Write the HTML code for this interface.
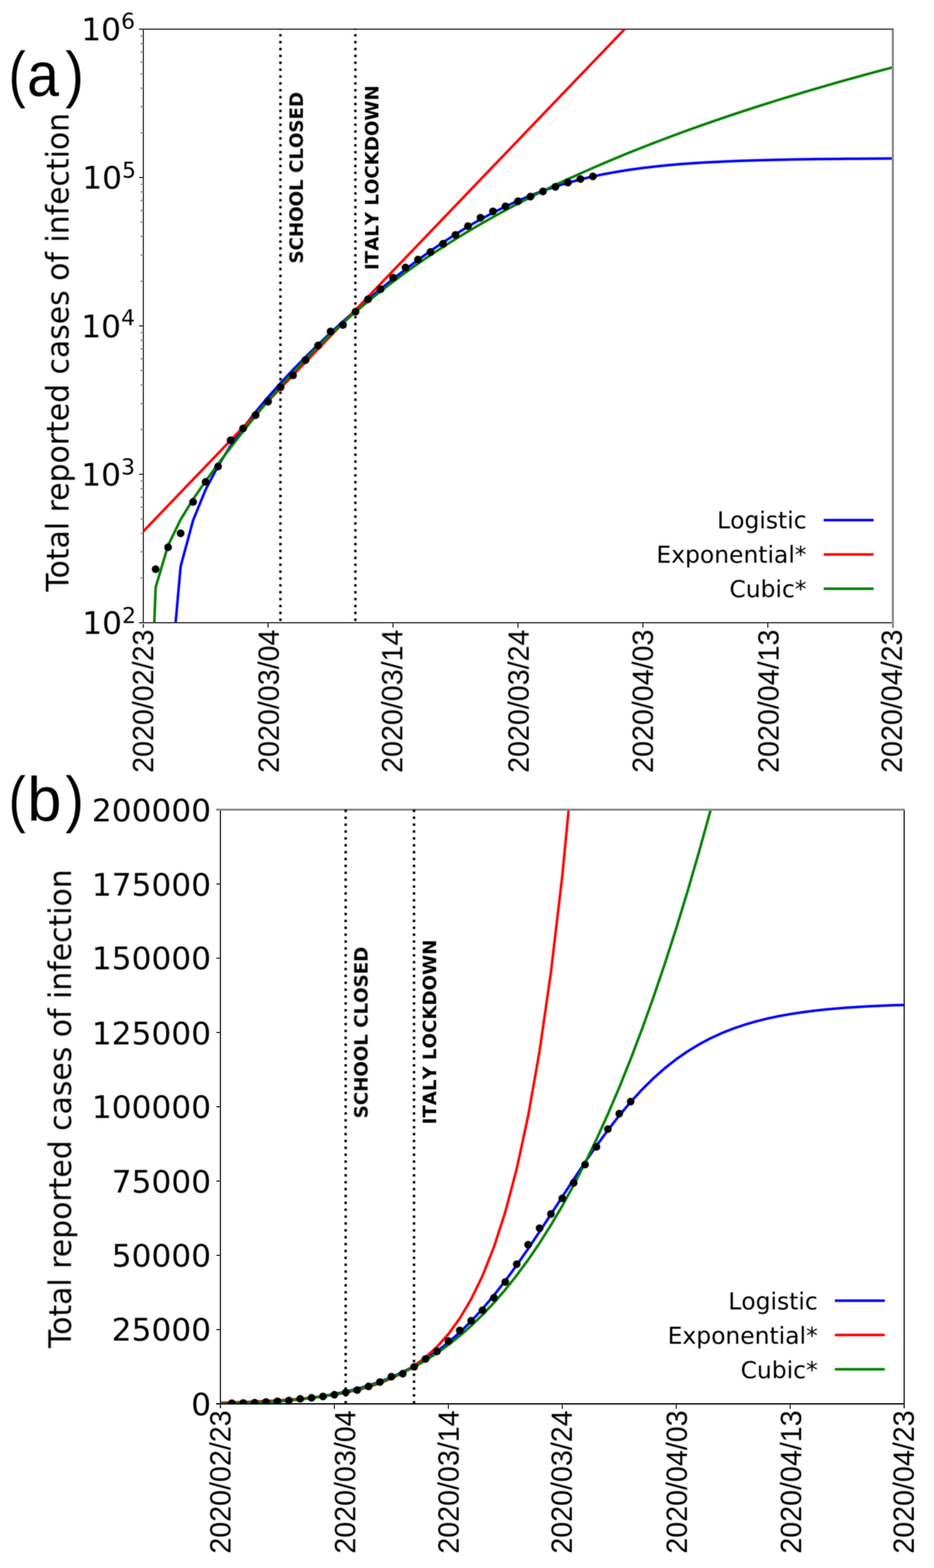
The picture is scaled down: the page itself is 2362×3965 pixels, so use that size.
<!DOCTYPE html>
<html><head><meta charset="utf-8"><title>Total reported cases of infection</title>
<style>
html,body{margin:0;padding:0;background:#fff;width:2362px;height:3965px;overflow:hidden}
svg{display:block}
text{fill:#000;font-kerning:none;white-space:pre}
.k{font-kerning:normal}
.dv{font-family:"DejaVu Sans","Liberation Sans",sans-serif}
.ls{font-family:"Liberation Sans","DejaVu Sans",sans-serif}
</style></head><body>
<svg width="2362" height="3965" viewBox="0 0 2362 3965">
<defs><filter id="soft" filterUnits="userSpaceOnUse" x="0" y="0" width="2362" height="3965" color-interpolation-filters="sRGB"><feGaussianBlur stdDeviation="0.8"/></filter></defs>
<rect width="2362" height="3965" fill="#fff"/>
<g filter="url(#soft)">
<clipPath id="clipa"><rect x="362" y="73.7" width="1895.7" height="1500.7"/></clipPath>
<g clip-path="url(#clipa)">
<polyline fill="none" stroke="#0000ff" stroke-width="6.5" stroke-linejoin="round" points="425.19,1786.36 456.78,1432.62 488.38,1315.61 519.97,1238.31 551.57,1178.06 583.16,1127.28 614.76,1082.48 646.36,1041.78 677.95,1004.05 709.54,968.59 741.14,934.9 772.73,902.67 804.33,871.66 835.92,841.72 867.52,812.74 899.11,784.66 930.71,757.44 962.3,731.07 993.9,705.57 1025.49,680.96 1057.09,657.29 1088.68,634.6 1120.28,612.94 1151.88,592.39 1183.47,572.98 1215.07,554.77 1246.66,537.8 1278.25,522.09 1309.85,507.65 1341.45,494.48 1373.04,482.55 1404.63,471.83 1436.23,462.25 1467.83,453.75 1499.42,446.25 1531.01,439.68 1562.61,433.96 1594.2,428.98 1625.8,424.69 1657.39,420.99 1688.99,417.82 1720.58,415.1 1752.18,412.79 1783.77,410.81 1815.37,409.14 1846.96,407.72 1878.56,406.52 1910.15,405.5 1941.75,404.64 1973.34,403.91 2004.94,403.3 2036.53,402.78 2068.13,402.34 2099.72,401.98 2131.32,401.67 2162.91,401.41 2194.51,401.19 2226.1,401 2257.7,400.85"/>
<polyline fill="none" stroke="#ff0000" stroke-width="6.5" stroke-linejoin="round" points="362,1344.25 393.59,1311.28 425.19,1278.31 456.78,1245.34 488.38,1212.37 519.97,1179.4 551.57,1146.43 583.16,1113.46 614.76,1080.49 646.36,1047.52 677.95,1014.56 709.54,981.59 741.14,948.62 772.73,915.65 804.33,882.68 835.92,849.71 867.52,816.74 899.11,783.77 930.71,750.8 962.3,717.83 993.9,684.86 1025.49,651.89 1057.09,618.92 1088.68,585.95 1120.28,552.98 1151.88,520.01 1183.47,487.04 1215.07,454.07 1246.66,421.1 1278.25,388.13 1309.85,355.16 1341.45,322.19 1373.04,289.22 1404.63,256.26 1436.23,223.29 1467.83,190.32 1499.42,157.35 1531.01,124.38 1562.61,91.41 1594.2,58.44 1625.8,25.47 1657.39,-7.5 1688.99,-40.47 1720.58,-73.44 1752.18,-106.41 1783.77,-139.38 1815.37,-172.35 1846.96,-205.32 1878.56,-238.29 1910.15,-271.26 1941.75,-304.23 1973.34,-337.2 2004.94,-370.17 2036.53,-403.14 2068.13,-436.11 2099.72,-469.07 2131.32,-502.04 2162.91,-535.01 2194.51,-567.98 2226.1,-600.95 2257.7,-633.92"/>
<polyline fill="none" stroke="#008000" stroke-width="6.5" stroke-linejoin="round" points="362,2317.72 393.59,1485.2 425.19,1378.86 456.78,1313.79 488.38,1262.46 519.97,1216.67 551.57,1173.37 583.16,1131.5 614.76,1090.83 646.36,1051.39 677.95,1013.33 709.54,976.75 741.14,941.69 772.73,908.19 804.33,876.19 835.92,845.66 867.52,816.52 899.11,788.7 930.71,762.12 962.3,736.7 993.9,712.36 1025.49,689.04 1057.09,666.66 1088.68,645.16 1120.28,624.48 1151.88,604.57 1183.47,585.38 1215.07,566.86 1246.66,548.98 1278.25,531.69 1309.85,514.95 1341.45,498.75 1373.04,483.03 1404.63,467.79 1436.23,452.98 1467.83,438.59 1499.42,424.6 1531.01,410.99 1562.61,397.73 1594.2,384.81 1625.8,372.21 1657.39,359.92 1688.99,347.93 1720.58,336.21 1752.18,324.76 1783.77,313.57 1815.37,302.62 1846.96,291.91 1878.56,281.43 1910.15,271.15 1941.75,261.09 1973.34,251.23 2004.94,241.55 2036.53,232.07 2068.13,222.76 2099.72,213.62 2131.32,204.64 2162.91,195.83 2194.51,187.17 2226.1,178.66 2257.7,170.29"/>
</g>
<clipPath id="clipb"><rect x="557.5" y="2047.4" width="1729" height="1502.6"/></clipPath>
<g clip-path="url(#clipb)">
<polyline fill="none" stroke="#0000ff" stroke-width="6.5" stroke-linejoin="round" points="557.5,3552.26 586.32,3551.13 615.13,3549.8 643.95,3548.21 672.77,3546.32 701.58,3544.09 730.4,3541.44 759.22,3538.32 788.03,3534.62 816.85,3530.25 845.67,3525.11 874.48,3519.06 903.3,3511.95 932.12,3503.63 960.93,3493.91 989.75,3482.59 1018.57,3469.47 1047.38,3454.32 1076.2,3436.92 1105.02,3417.06 1133.83,3394.54 1162.65,3369.2 1191.47,3340.92 1220.28,3309.68 1249.1,3275.53 1277.92,3238.62 1306.73,3199.23 1335.55,3157.76 1364.37,3114.7 1393.18,3070.64 1422,3026.22 1450.82,2982.13 1479.63,2938.99 1508.45,2897.41 1537.27,2857.89 1566.08,2820.83 1594.9,2786.51 1623.72,2755.1 1652.53,2726.66 1681.35,2701.15 1710.17,2678.47 1738.98,2658.46 1767.8,2640.93 1796.62,2625.66 1825.43,2612.43 1854.25,2601.01 1883.07,2591.21 1911.88,2582.81 1940.7,2575.64 1969.52,2569.53 1998.33,2564.34 2027.15,2559.93 2055.97,2556.2 2084.78,2553.04 2113.6,2550.37 2142.42,2548.11 2171.23,2546.21 2200.05,2544.61 2228.87,2543.25 2257.68,2542.12 2286.5,2541.16"/>
<polyline fill="none" stroke="#ff0000" stroke-width="6.5" stroke-linejoin="round" points="557.5,3546.91 586.32,3546.22 615.13,3545.38 643.95,3544.34 672.77,3543.07 701.58,3541.52 730.4,3539.61 759.22,3537.28 788.03,3534.43 816.85,3530.94 845.67,3526.66 874.48,3521.43 903.3,3515.02 932.12,3507.18 960.93,3497.57 989.75,3485.82 1018.57,3471.42 1047.38,3453.8 1076.2,3432.22 1105.02,3405.81 1133.83,3373.47 1162.65,3333.88 1191.47,3285.41 1220.28,3226.07 1249.1,3153.42 1277.92,3064.48 1306.73,2955.6 1335.55,2822.29 1364.37,2659.08 1393.18,2459.28 1422,2214.66 1450.82,1915.18 1479.63,1548.53 1508.45,1099.66 1537.27,550.12 1566.08,-122.67 1594.9,-946.35 1623.72,-952.6 1652.53,-952.6 1681.35,-952.6 1710.17,-952.6 1738.98,-952.6 1767.8,-952.6 1796.62,-952.6 1825.43,-952.6 1854.25,-952.6 1883.07,-952.6 1911.88,-952.6 1940.7,-952.6 1969.52,-952.6 1998.33,-952.6 2027.15,-952.6 2055.97,-952.6 2084.78,-952.6 2113.6,-952.6 2142.42,-952.6 2171.23,-952.6 2200.05,-952.6 2228.87,-952.6 2257.68,-952.6 2286.5,-952.6"/>
<polyline fill="none" stroke="#008000" stroke-width="6.5" stroke-linejoin="round" points="557.5,3549.99 586.32,3548.7 615.13,3547.51 643.95,3546.28 672.77,3544.9 701.58,3543.25 730.4,3541.19 759.22,3538.62 788.03,3535.39 816.85,3531.39 845.67,3526.49 874.48,3520.57 903.3,3513.5 932.12,3505.17 960.93,3495.45 989.75,3484.2 1018.57,3471.32 1047.38,3456.67 1076.2,3440.13 1105.02,3421.58 1133.83,3400.89 1162.65,3377.94 1191.47,3352.61 1220.28,3324.76 1249.1,3294.28 1277.92,3261.05 1306.73,3224.93 1335.55,3185.81 1364.37,3143.56 1393.18,3098.06 1422,3049.18 1450.82,2996.79 1479.63,2940.79 1508.45,2881.03 1537.27,2817.4 1566.08,2749.77 1594.9,2678.02 1623.72,2602.02 1652.53,2521.66 1681.35,2436.8 1710.17,2347.32 1738.98,2253.11 1767.8,2154.02 1796.62,2049.95 1825.43,1940.76 1854.25,1826.34 1883.07,1706.55 1911.88,1581.28 1940.7,1450.39 1969.52,1313.78 1998.33,1171.3 2027.15,1022.85 2055.97,868.29 2084.78,707.49 2113.6,540.35 2142.42,366.72 2171.23,186.5 2200.05,-0.45 2228.87,-194.26 2257.68,-395.03 2286.5,-602.91"/>
</g>
</g>
<g>
<rect x="358.2" y="75.6" width="3" height="1511.6" fill="#e6e6e6"/>
<rect x="361.2" y="72.5" width="2.9" height="1515.1" fill="#3a3a3a"/>
<rect x="2255.2" y="72.5" width="5.6" height="1515" fill="#909090"/>
<rect x="349.5" y="69.8" width="1911.1" height="2.7" fill="#d4d4d4"/>
<rect x="351.8" y="72.5" width="1906.2" height="3.1" fill="#444"/>
<rect x="349.5" y="1575.9" width="1905.7" height="2.4" fill="#d8d8d8"/>
<rect x="351.8" y="1573" width="1903.4" height="2.9" fill="#3c3c3c"/>
<g fill="#2a2a2a"><rect x="676.55" y="1574.4" width="2.8" height="12.6"/><rect x="992.5" y="1574.4" width="2.8" height="12.6"/><rect x="1308.45" y="1574.4" width="2.8" height="12.6"/><rect x="1624.4" y="1574.4" width="2.8" height="12.6"/><rect x="1940.35" y="1574.4" width="2.8" height="12.6"/><rect x="351.8" y="1197.83" width="10.2" height="2.8"/><rect x="351.8" y="822.65" width="10.2" height="2.8"/><rect x="351.8" y="447.48" width="10.2" height="2.8"/></g>
<g fill="#999"><rect x="355.4" y="1459.66" width="6.6" height="3.6"/><rect x="355.4" y="1393.6" width="6.6" height="3.6"/><rect x="355.4" y="1346.72" width="6.6" height="3.6"/><rect x="355.4" y="1310.36" width="6.6" height="3.6"/><rect x="355.4" y="1280.66" width="6.6" height="3.6"/><rect x="355.4" y="1255.54" width="6.6" height="3.6"/><rect x="355.4" y="1233.78" width="6.6" height="3.6"/><rect x="355.4" y="1214.59" width="6.6" height="3.6"/><rect x="355.4" y="1084.49" width="6.6" height="3.6"/><rect x="355.4" y="1018.42" width="6.6" height="3.6"/><rect x="355.4" y="971.55" width="6.6" height="3.6"/><rect x="355.4" y="935.19" width="6.6" height="3.6"/><rect x="355.4" y="905.48" width="6.6" height="3.6"/><rect x="355.4" y="880.37" width="6.6" height="3.6"/><rect x="355.4" y="858.61" width="6.6" height="3.6"/><rect x="355.4" y="839.42" width="6.6" height="3.6"/><rect x="355.4" y="709.31" width="6.6" height="3.6"/><rect x="355.4" y="643.25" width="6.6" height="3.6"/><rect x="355.4" y="596.37" width="6.6" height="3.6"/><rect x="355.4" y="560.01" width="6.6" height="3.6"/><rect x="355.4" y="530.31" width="6.6" height="3.6"/><rect x="355.4" y="505.19" width="6.6" height="3.6"/><rect x="355.4" y="483.43" width="6.6" height="3.6"/><rect x="355.4" y="464.24" width="6.6" height="3.6"/><rect x="355.4" y="334.14" width="6.6" height="3.6"/><rect x="355.4" y="268.07" width="6.6" height="3.6"/><rect x="355.4" y="221.2" width="6.6" height="3.6"/><rect x="355.4" y="184.84" width="6.6" height="3.6"/><rect x="355.4" y="155.13" width="6.6" height="3.6"/><rect x="355.4" y="130.02" width="6.6" height="3.6"/><rect x="355.4" y="108.26" width="6.6" height="3.6"/><rect x="355.4" y="89.07" width="6.6" height="3.6"/></g>
<rect x="553.2" y="2050" width="2.8" height="1511" fill="#e8e8e8"/>
<rect x="556" y="2047" width="3.1" height="1514.2" fill="#333"/>
<rect x="2285" y="2047" width="3.1" height="1514.2" fill="#222"/>
<rect x="546.8" y="2044.7" width="1741.3" height="5.3" fill="#8e8e8e"/>
<rect x="546.8" y="3548" width="1741.3" height="3.8" fill="#222"/>
<g fill="#2a2a2a"><rect x="844.27" y="3550" width="2.8" height="12.6"/><rect x="1132.43" y="3550" width="2.8" height="12.6"/><rect x="1420.6" y="3550" width="2.8" height="12.6"/><rect x="1708.77" y="3550" width="2.8" height="12.6"/><rect x="1996.93" y="3550" width="2.8" height="12.6"/><rect x="547.3" y="3360.78" width="10.2" height="2.8"/><rect x="547.3" y="3172.95" width="10.2" height="2.8"/><rect x="547.3" y="2985.12" width="10.2" height="2.8"/><rect x="547.3" y="2797.3" width="10.2" height="2.8"/><rect x="547.3" y="2609.47" width="10.2" height="2.8"/><rect x="547.3" y="2421.65" width="10.2" height="2.8"/><rect x="547.3" y="2233.83" width="10.2" height="2.8"/></g>
</g>
<g filter="url(#soft)">
<g fill="#000" clip-path="url(#clipa)"><rect x="706.09" y="1564.1" width="6.2" height="6.2"/><rect x="706.09" y="1546.71" width="6.2" height="6.2"/><rect x="706.09" y="1529.32" width="6.2" height="6.2"/><rect x="706.09" y="1511.94" width="6.2" height="6.2"/><rect x="706.09" y="1494.55" width="6.2" height="6.2"/><rect x="706.09" y="1477.16" width="6.2" height="6.2"/><rect x="706.09" y="1459.77" width="6.2" height="6.2"/><rect x="706.09" y="1442.38" width="6.2" height="6.2"/><rect x="706.09" y="1425" width="6.2" height="6.2"/><rect x="706.09" y="1407.61" width="6.2" height="6.2"/><rect x="706.09" y="1390.22" width="6.2" height="6.2"/><rect x="706.09" y="1372.83" width="6.2" height="6.2"/><rect x="706.09" y="1355.44" width="6.2" height="6.2"/><rect x="706.09" y="1338.06" width="6.2" height="6.2"/><rect x="706.09" y="1320.67" width="6.2" height="6.2"/><rect x="706.09" y="1303.28" width="6.2" height="6.2"/><rect x="706.09" y="1285.89" width="6.2" height="6.2"/><rect x="706.09" y="1268.5" width="6.2" height="6.2"/><rect x="706.09" y="1251.12" width="6.2" height="6.2"/><rect x="706.09" y="1233.73" width="6.2" height="6.2"/><rect x="706.09" y="1216.34" width="6.2" height="6.2"/><rect x="706.09" y="1198.95" width="6.2" height="6.2"/><rect x="706.09" y="1181.56" width="6.2" height="6.2"/><rect x="706.09" y="1164.18" width="6.2" height="6.2"/><rect x="706.09" y="1146.79" width="6.2" height="6.2"/><rect x="706.09" y="1129.4" width="6.2" height="6.2"/><rect x="706.09" y="1112.01" width="6.2" height="6.2"/><rect x="706.09" y="1094.62" width="6.2" height="6.2"/><rect x="706.09" y="1077.24" width="6.2" height="6.2"/><rect x="706.09" y="1059.85" width="6.2" height="6.2"/><rect x="706.09" y="1042.46" width="6.2" height="6.2"/><rect x="706.09" y="1025.07" width="6.2" height="6.2"/><rect x="706.09" y="1007.68" width="6.2" height="6.2"/><rect x="706.09" y="990.3" width="6.2" height="6.2"/><rect x="706.09" y="972.91" width="6.2" height="6.2"/><rect x="706.09" y="955.52" width="6.2" height="6.2"/><rect x="706.09" y="938.13" width="6.2" height="6.2"/><rect x="706.09" y="920.74" width="6.2" height="6.2"/><rect x="706.09" y="903.36" width="6.2" height="6.2"/><rect x="706.09" y="885.97" width="6.2" height="6.2"/><rect x="706.09" y="868.58" width="6.2" height="6.2"/><rect x="706.09" y="851.19" width="6.2" height="6.2"/><rect x="706.09" y="833.8" width="6.2" height="6.2"/><rect x="706.09" y="816.42" width="6.2" height="6.2"/><rect x="706.09" y="799.03" width="6.2" height="6.2"/><rect x="706.09" y="781.64" width="6.2" height="6.2"/><rect x="706.09" y="764.25" width="6.2" height="6.2"/><rect x="706.09" y="746.86" width="6.2" height="6.2"/><rect x="706.09" y="729.48" width="6.2" height="6.2"/><rect x="706.09" y="712.09" width="6.2" height="6.2"/><rect x="706.09" y="694.7" width="6.2" height="6.2"/><rect x="706.09" y="677.31" width="6.2" height="6.2"/><rect x="706.09" y="659.92" width="6.2" height="6.2"/><rect x="706.09" y="642.54" width="6.2" height="6.2"/><rect x="706.09" y="625.15" width="6.2" height="6.2"/><rect x="706.09" y="607.76" width="6.2" height="6.2"/><rect x="706.09" y="590.37" width="6.2" height="6.2"/><rect x="706.09" y="572.98" width="6.2" height="6.2"/><rect x="706.09" y="555.6" width="6.2" height="6.2"/><rect x="706.09" y="538.21" width="6.2" height="6.2"/><rect x="706.09" y="520.82" width="6.2" height="6.2"/><rect x="706.09" y="503.43" width="6.2" height="6.2"/><rect x="706.09" y="486.04" width="6.2" height="6.2"/><rect x="706.09" y="468.66" width="6.2" height="6.2"/><rect x="706.09" y="451.27" width="6.2" height="6.2"/><rect x="706.09" y="433.88" width="6.2" height="6.2"/><rect x="706.09" y="416.49" width="6.2" height="6.2"/><rect x="706.09" y="399.1" width="6.2" height="6.2"/><rect x="706.09" y="381.72" width="6.2" height="6.2"/><rect x="706.09" y="364.33" width="6.2" height="6.2"/><rect x="706.09" y="346.94" width="6.2" height="6.2"/><rect x="706.09" y="329.55" width="6.2" height="6.2"/><rect x="706.09" y="312.16" width="6.2" height="6.2"/><rect x="706.09" y="294.78" width="6.2" height="6.2"/><rect x="706.09" y="277.39" width="6.2" height="6.2"/><rect x="706.09" y="260" width="6.2" height="6.2"/><rect x="706.09" y="242.61" width="6.2" height="6.2"/><rect x="706.09" y="225.22" width="6.2" height="6.2"/><rect x="706.09" y="207.84" width="6.2" height="6.2"/><rect x="706.09" y="190.45" width="6.2" height="6.2"/><rect x="706.09" y="173.06" width="6.2" height="6.2"/><rect x="706.09" y="155.67" width="6.2" height="6.2"/><rect x="706.09" y="138.28" width="6.2" height="6.2"/><rect x="706.09" y="120.9" width="6.2" height="6.2"/><rect x="706.09" y="103.51" width="6.2" height="6.2"/><rect x="706.09" y="86.12" width="6.2" height="6.2"/><rect x="706.09" y="68.73" width="6.2" height="6.2"/></g>
<g fill="#000" clip-path="url(#clipa)"><rect x="895.66" y="1564.1" width="6.2" height="6.2"/><rect x="895.66" y="1546.71" width="6.2" height="6.2"/><rect x="895.66" y="1529.32" width="6.2" height="6.2"/><rect x="895.66" y="1511.94" width="6.2" height="6.2"/><rect x="895.66" y="1494.55" width="6.2" height="6.2"/><rect x="895.66" y="1477.16" width="6.2" height="6.2"/><rect x="895.66" y="1459.77" width="6.2" height="6.2"/><rect x="895.66" y="1442.38" width="6.2" height="6.2"/><rect x="895.66" y="1425" width="6.2" height="6.2"/><rect x="895.66" y="1407.61" width="6.2" height="6.2"/><rect x="895.66" y="1390.22" width="6.2" height="6.2"/><rect x="895.66" y="1372.83" width="6.2" height="6.2"/><rect x="895.66" y="1355.44" width="6.2" height="6.2"/><rect x="895.66" y="1338.06" width="6.2" height="6.2"/><rect x="895.66" y="1320.67" width="6.2" height="6.2"/><rect x="895.66" y="1303.28" width="6.2" height="6.2"/><rect x="895.66" y="1285.89" width="6.2" height="6.2"/><rect x="895.66" y="1268.5" width="6.2" height="6.2"/><rect x="895.66" y="1251.12" width="6.2" height="6.2"/><rect x="895.66" y="1233.73" width="6.2" height="6.2"/><rect x="895.66" y="1216.34" width="6.2" height="6.2"/><rect x="895.66" y="1198.95" width="6.2" height="6.2"/><rect x="895.66" y="1181.56" width="6.2" height="6.2"/><rect x="895.66" y="1164.18" width="6.2" height="6.2"/><rect x="895.66" y="1146.79" width="6.2" height="6.2"/><rect x="895.66" y="1129.4" width="6.2" height="6.2"/><rect x="895.66" y="1112.01" width="6.2" height="6.2"/><rect x="895.66" y="1094.62" width="6.2" height="6.2"/><rect x="895.66" y="1077.24" width="6.2" height="6.2"/><rect x="895.66" y="1059.85" width="6.2" height="6.2"/><rect x="895.66" y="1042.46" width="6.2" height="6.2"/><rect x="895.66" y="1025.07" width="6.2" height="6.2"/><rect x="895.66" y="1007.68" width="6.2" height="6.2"/><rect x="895.66" y="990.3" width="6.2" height="6.2"/><rect x="895.66" y="972.91" width="6.2" height="6.2"/><rect x="895.66" y="955.52" width="6.2" height="6.2"/><rect x="895.66" y="938.13" width="6.2" height="6.2"/><rect x="895.66" y="920.74" width="6.2" height="6.2"/><rect x="895.66" y="903.36" width="6.2" height="6.2"/><rect x="895.66" y="885.97" width="6.2" height="6.2"/><rect x="895.66" y="868.58" width="6.2" height="6.2"/><rect x="895.66" y="851.19" width="6.2" height="6.2"/><rect x="895.66" y="833.8" width="6.2" height="6.2"/><rect x="895.66" y="816.42" width="6.2" height="6.2"/><rect x="895.66" y="799.03" width="6.2" height="6.2"/><rect x="895.66" y="781.64" width="6.2" height="6.2"/><rect x="895.66" y="764.25" width="6.2" height="6.2"/><rect x="895.66" y="746.86" width="6.2" height="6.2"/><rect x="895.66" y="729.48" width="6.2" height="6.2"/><rect x="895.66" y="712.09" width="6.2" height="6.2"/><rect x="895.66" y="694.7" width="6.2" height="6.2"/><rect x="895.66" y="677.31" width="6.2" height="6.2"/><rect x="895.66" y="659.92" width="6.2" height="6.2"/><rect x="895.66" y="642.54" width="6.2" height="6.2"/><rect x="895.66" y="625.15" width="6.2" height="6.2"/><rect x="895.66" y="607.76" width="6.2" height="6.2"/><rect x="895.66" y="590.37" width="6.2" height="6.2"/><rect x="895.66" y="572.98" width="6.2" height="6.2"/><rect x="895.66" y="555.6" width="6.2" height="6.2"/><rect x="895.66" y="538.21" width="6.2" height="6.2"/><rect x="895.66" y="520.82" width="6.2" height="6.2"/><rect x="895.66" y="503.43" width="6.2" height="6.2"/><rect x="895.66" y="486.04" width="6.2" height="6.2"/><rect x="895.66" y="468.66" width="6.2" height="6.2"/><rect x="895.66" y="451.27" width="6.2" height="6.2"/><rect x="895.66" y="433.88" width="6.2" height="6.2"/><rect x="895.66" y="416.49" width="6.2" height="6.2"/><rect x="895.66" y="399.1" width="6.2" height="6.2"/><rect x="895.66" y="381.72" width="6.2" height="6.2"/><rect x="895.66" y="364.33" width="6.2" height="6.2"/><rect x="895.66" y="346.94" width="6.2" height="6.2"/><rect x="895.66" y="329.55" width="6.2" height="6.2"/><rect x="895.66" y="312.16" width="6.2" height="6.2"/><rect x="895.66" y="294.78" width="6.2" height="6.2"/><rect x="895.66" y="277.39" width="6.2" height="6.2"/><rect x="895.66" y="260" width="6.2" height="6.2"/><rect x="895.66" y="242.61" width="6.2" height="6.2"/><rect x="895.66" y="225.22" width="6.2" height="6.2"/><rect x="895.66" y="207.84" width="6.2" height="6.2"/><rect x="895.66" y="190.45" width="6.2" height="6.2"/><rect x="895.66" y="173.06" width="6.2" height="6.2"/><rect x="895.66" y="155.67" width="6.2" height="6.2"/><rect x="895.66" y="138.28" width="6.2" height="6.2"/><rect x="895.66" y="120.9" width="6.2" height="6.2"/><rect x="895.66" y="103.51" width="6.2" height="6.2"/><rect x="895.66" y="86.12" width="6.2" height="6.2"/><rect x="895.66" y="68.73" width="6.2" height="6.2"/></g>
<g fill="#000" clip-path="url(#clipa)"><circle cx="393.59" cy="1439.4" r="9.8"/><circle cx="425.19" cy="1383.87" r="9.8"/><circle cx="456.78" cy="1348.52" r="9.8"/><circle cx="488.38" cy="1269.42" r="9.8"/><circle cx="519.97" cy="1218.58" r="9.8"/><circle cx="551.57" cy="1179.6" r="9.8"/><circle cx="583.16" cy="1113.34" r="9.8"/><circle cx="614.76" cy="1083.38" r="9.8"/><circle cx="646.36" cy="1049.8" r="9.8"/><circle cx="677.95" cy="1015.46" r="9.8"/><circle cx="709.54" cy="979.24" r="9.8"/><circle cx="741.14" cy="949.3" r="9.8"/><circle cx="772.73" cy="910.49" r="9.8"/><circle cx="804.33" cy="873.66" r="9.8"/><circle cx="835.92" cy="838.13" r="9.8"/><circle cx="867.52" cy="821.64" r="9.8"/><circle cx="899.11" cy="788.19" r="9.8"/><circle cx="930.71" cy="756.76" r="9.8"/><circle cx="962.3" cy="731.39" r="9.8"/><circle cx="993.9" cy="701.95" r="9.8"/><circle cx="1025.49" cy="676.41" r="9.8"/><circle cx="1057.09" cy="656.4" r="9.8"/><circle cx="1088.68" cy="637.07" r="9.8"/><circle cx="1120.28" cy="616.64" r="9.8"/><circle cx="1151.88" cy="594.01" r="9.8"/><circle cx="1183.47" cy="571.82" r="9.8"/><circle cx="1215.07" cy="550.55" r="9.8"/><circle cx="1246.66" cy="534.46" r="9.8"/><circle cx="1278.25" cy="521.78" r="9.8"/><circle cx="1309.85" cy="508.92" r="9.8"/><circle cx="1341.45" cy="497.09" r="9.8"/><circle cx="1373.04" cy="484.14" r="9.8"/><circle cx="1404.63" cy="472.51" r="9.8"/><circle cx="1436.23" cy="461.63" r="9.8"/><circle cx="1467.83" cy="452.68" r="9.8"/><circle cx="1499.42" cy="446.07" r="9.8"/></g>
<text x="208" y="1603.2" font-size="79.0" class="dv">10<tspan font-size="55.3" dx="0.3" dy="-28.5">2</tspan></text>
<text x="205.5" y="1228.23" font-size="79.0" class="dv">10<tspan font-size="55.3" dx="0.3" dy="-29.3">3</tspan></text>
<text x="205.5" y="852.6" font-size="79.0" class="dv">10<tspan font-size="55.3" dx="0.3" dy="-30.3">4</tspan></text>
<text x="208" y="477.12" font-size="79.0" class="dv">10<tspan font-size="55.3" dx="0.3" dy="-28.35">5</tspan></text>
<text x="205.5" y="102.2" font-size="79.0" class="dv">10<tspan font-size="55.3" dx="0.3" dy="-30.7">6</tspan></text>
<text transform="translate(387.5,1592) rotate(-90) scale(0.972,1)" font-size="74.5" text-anchor="end" class="ls">2020/02/23</text>
<text transform="translate(705.15,1592) rotate(-90) scale(0.972,1)" font-size="74.5" text-anchor="end" class="ls">2020/03/04</text>
<text transform="translate(1017.4,1592) rotate(-90) scale(0.972,1)" font-size="74.5" text-anchor="end" class="ls">2020/03/14</text>
<text transform="translate(1337.05,1592) rotate(-90) scale(0.972,1)" font-size="74.5" text-anchor="end" class="ls">2020/03/24</text>
<text transform="translate(1651.3,1592) rotate(-90) scale(0.972,1)" font-size="74.5" text-anchor="end" class="ls">2020/04/03</text>
<text transform="translate(1969.05,1592) rotate(-90) scale(0.972,1)" font-size="74.5" text-anchor="end" class="ls">2020/04/13</text>
<text transform="translate(2280.9,1592) rotate(-90) scale(0.972,1)" font-size="74.5" text-anchor="end" class="ls">2020/04/23</text>
<text transform="translate(173.9,1495.9) rotate(-90) scale(1,1.035)" font-size="75.47" class="dv k">Total reported cases of infection</text>
<text transform="translate(766,666.4) rotate(-90)" font-size="46.0" font-weight="bold" class="dv">SCHOOL CLOSED</text>
<text transform="translate(957,682.8) rotate(-90)" font-size="46.0" font-weight="bold" class="dv">ITALY LOCKDOWN</text>
<text x="2039.7" y="1336.2" font-size="59.2" text-anchor="end" class="dv">Logistic</text>
<line x1="2083" x2="2209.3" y1="1315.2" y2="1315.2" stroke="#0000ff" stroke-width="6.5"/>
<text x="2039.7" y="1423" font-size="59.2" text-anchor="end" class="dv">Exponential*</text>
<line x1="2083" x2="2209.3" y1="1402" y2="1402" stroke="#ff0000" stroke-width="6.5"/>
<text x="2039.7" y="1509.8" font-size="59.2" text-anchor="end" class="dv">Cubic*</text>
<line x1="2083" x2="2209.3" y1="1488.8" y2="1488.8" stroke="#008000" stroke-width="6.5"/>
<text font-size="158.0" class="ls"><tspan x="22.1" y="240.7" textLength="42.93" lengthAdjust="spacingAndGlyphs">(</tspan><tspan x="68.6" y="241.5" textLength="80.59" lengthAdjust="spacingAndGlyphs">a</tspan><tspan x="165.2" y="240.7" textLength="46.83" lengthAdjust="spacingAndGlyphs">)</tspan></text>
<g fill="#000" clip-path="url(#clipb)"><rect x="871.03" y="3542.8" width="6.2" height="6.2"/><rect x="871.03" y="3525.41" width="6.2" height="6.2"/><rect x="871.03" y="3508.02" width="6.2" height="6.2"/><rect x="871.03" y="3490.64" width="6.2" height="6.2"/><rect x="871.03" y="3473.25" width="6.2" height="6.2"/><rect x="871.03" y="3455.86" width="6.2" height="6.2"/><rect x="871.03" y="3438.47" width="6.2" height="6.2"/><rect x="871.03" y="3421.08" width="6.2" height="6.2"/><rect x="871.03" y="3403.7" width="6.2" height="6.2"/><rect x="871.03" y="3386.31" width="6.2" height="6.2"/><rect x="871.03" y="3368.92" width="6.2" height="6.2"/><rect x="871.03" y="3351.53" width="6.2" height="6.2"/><rect x="871.03" y="3334.14" width="6.2" height="6.2"/><rect x="871.03" y="3316.76" width="6.2" height="6.2"/><rect x="871.03" y="3299.37" width="6.2" height="6.2"/><rect x="871.03" y="3281.98" width="6.2" height="6.2"/><rect x="871.03" y="3264.59" width="6.2" height="6.2"/><rect x="871.03" y="3247.2" width="6.2" height="6.2"/><rect x="871.03" y="3229.82" width="6.2" height="6.2"/><rect x="871.03" y="3212.43" width="6.2" height="6.2"/><rect x="871.03" y="3195.04" width="6.2" height="6.2"/><rect x="871.03" y="3177.65" width="6.2" height="6.2"/><rect x="871.03" y="3160.26" width="6.2" height="6.2"/><rect x="871.03" y="3142.88" width="6.2" height="6.2"/><rect x="871.03" y="3125.49" width="6.2" height="6.2"/><rect x="871.03" y="3108.1" width="6.2" height="6.2"/><rect x="871.03" y="3090.71" width="6.2" height="6.2"/><rect x="871.03" y="3073.32" width="6.2" height="6.2"/><rect x="871.03" y="3055.94" width="6.2" height="6.2"/><rect x="871.03" y="3038.55" width="6.2" height="6.2"/><rect x="871.03" y="3021.16" width="6.2" height="6.2"/><rect x="871.03" y="3003.77" width="6.2" height="6.2"/><rect x="871.03" y="2986.38" width="6.2" height="6.2"/><rect x="871.03" y="2969" width="6.2" height="6.2"/><rect x="871.03" y="2951.61" width="6.2" height="6.2"/><rect x="871.03" y="2934.22" width="6.2" height="6.2"/><rect x="871.03" y="2916.83" width="6.2" height="6.2"/><rect x="871.03" y="2899.44" width="6.2" height="6.2"/><rect x="871.03" y="2882.06" width="6.2" height="6.2"/><rect x="871.03" y="2864.67" width="6.2" height="6.2"/><rect x="871.03" y="2847.28" width="6.2" height="6.2"/><rect x="871.03" y="2829.89" width="6.2" height="6.2"/><rect x="871.03" y="2812.5" width="6.2" height="6.2"/><rect x="871.03" y="2795.12" width="6.2" height="6.2"/><rect x="871.03" y="2777.73" width="6.2" height="6.2"/><rect x="871.03" y="2760.34" width="6.2" height="6.2"/><rect x="871.03" y="2742.95" width="6.2" height="6.2"/><rect x="871.03" y="2725.56" width="6.2" height="6.2"/><rect x="871.03" y="2708.18" width="6.2" height="6.2"/><rect x="871.03" y="2690.79" width="6.2" height="6.2"/><rect x="871.03" y="2673.4" width="6.2" height="6.2"/><rect x="871.03" y="2656.01" width="6.2" height="6.2"/><rect x="871.03" y="2638.62" width="6.2" height="6.2"/><rect x="871.03" y="2621.24" width="6.2" height="6.2"/><rect x="871.03" y="2603.85" width="6.2" height="6.2"/><rect x="871.03" y="2586.46" width="6.2" height="6.2"/><rect x="871.03" y="2569.07" width="6.2" height="6.2"/><rect x="871.03" y="2551.68" width="6.2" height="6.2"/><rect x="871.03" y="2534.3" width="6.2" height="6.2"/><rect x="871.03" y="2516.91" width="6.2" height="6.2"/><rect x="871.03" y="2499.52" width="6.2" height="6.2"/><rect x="871.03" y="2482.13" width="6.2" height="6.2"/><rect x="871.03" y="2464.74" width="6.2" height="6.2"/><rect x="871.03" y="2447.36" width="6.2" height="6.2"/><rect x="871.03" y="2429.97" width="6.2" height="6.2"/><rect x="871.03" y="2412.58" width="6.2" height="6.2"/><rect x="871.03" y="2395.19" width="6.2" height="6.2"/><rect x="871.03" y="2377.8" width="6.2" height="6.2"/><rect x="871.03" y="2360.42" width="6.2" height="6.2"/><rect x="871.03" y="2343.03" width="6.2" height="6.2"/><rect x="871.03" y="2325.64" width="6.2" height="6.2"/><rect x="871.03" y="2308.25" width="6.2" height="6.2"/><rect x="871.03" y="2290.86" width="6.2" height="6.2"/><rect x="871.03" y="2273.48" width="6.2" height="6.2"/><rect x="871.03" y="2256.09" width="6.2" height="6.2"/><rect x="871.03" y="2238.7" width="6.2" height="6.2"/><rect x="871.03" y="2221.31" width="6.2" height="6.2"/><rect x="871.03" y="2203.92" width="6.2" height="6.2"/><rect x="871.03" y="2186.54" width="6.2" height="6.2"/><rect x="871.03" y="2169.15" width="6.2" height="6.2"/><rect x="871.03" y="2151.76" width="6.2" height="6.2"/><rect x="871.03" y="2134.37" width="6.2" height="6.2"/><rect x="871.03" y="2116.98" width="6.2" height="6.2"/><rect x="871.03" y="2099.6" width="6.2" height="6.2"/><rect x="871.03" y="2082.21" width="6.2" height="6.2"/><rect x="871.03" y="2064.82" width="6.2" height="6.2"/><rect x="871.03" y="2047.43" width="6.2" height="6.2"/></g>
<g fill="#000" clip-path="url(#clipb)"><rect x="1043.93" y="3542.8" width="6.2" height="6.2"/><rect x="1043.93" y="3525.41" width="6.2" height="6.2"/><rect x="1043.93" y="3508.02" width="6.2" height="6.2"/><rect x="1043.93" y="3490.64" width="6.2" height="6.2"/><rect x="1043.93" y="3473.25" width="6.2" height="6.2"/><rect x="1043.93" y="3455.86" width="6.2" height="6.2"/><rect x="1043.93" y="3438.47" width="6.2" height="6.2"/><rect x="1043.93" y="3421.08" width="6.2" height="6.2"/><rect x="1043.93" y="3403.7" width="6.2" height="6.2"/><rect x="1043.93" y="3386.31" width="6.2" height="6.2"/><rect x="1043.93" y="3368.92" width="6.2" height="6.2"/><rect x="1043.93" y="3351.53" width="6.2" height="6.2"/><rect x="1043.93" y="3334.14" width="6.2" height="6.2"/><rect x="1043.93" y="3316.76" width="6.2" height="6.2"/><rect x="1043.93" y="3299.37" width="6.2" height="6.2"/><rect x="1043.93" y="3281.98" width="6.2" height="6.2"/><rect x="1043.93" y="3264.59" width="6.2" height="6.2"/><rect x="1043.93" y="3247.2" width="6.2" height="6.2"/><rect x="1043.93" y="3229.82" width="6.2" height="6.2"/><rect x="1043.93" y="3212.43" width="6.2" height="6.2"/><rect x="1043.93" y="3195.04" width="6.2" height="6.2"/><rect x="1043.93" y="3177.65" width="6.2" height="6.2"/><rect x="1043.93" y="3160.26" width="6.2" height="6.2"/><rect x="1043.93" y="3142.88" width="6.2" height="6.2"/><rect x="1043.93" y="3125.49" width="6.2" height="6.2"/><rect x="1043.93" y="3108.1" width="6.2" height="6.2"/><rect x="1043.93" y="3090.71" width="6.2" height="6.2"/><rect x="1043.93" y="3073.32" width="6.2" height="6.2"/><rect x="1043.93" y="3055.94" width="6.2" height="6.2"/><rect x="1043.93" y="3038.55" width="6.2" height="6.2"/><rect x="1043.93" y="3021.16" width="6.2" height="6.2"/><rect x="1043.93" y="3003.77" width="6.2" height="6.2"/><rect x="1043.93" y="2986.38" width="6.2" height="6.2"/><rect x="1043.93" y="2969" width="6.2" height="6.2"/><rect x="1043.93" y="2951.61" width="6.2" height="6.2"/><rect x="1043.93" y="2934.22" width="6.2" height="6.2"/><rect x="1043.93" y="2916.83" width="6.2" height="6.2"/><rect x="1043.93" y="2899.44" width="6.2" height="6.2"/><rect x="1043.93" y="2882.06" width="6.2" height="6.2"/><rect x="1043.93" y="2864.67" width="6.2" height="6.2"/><rect x="1043.93" y="2847.28" width="6.2" height="6.2"/><rect x="1043.93" y="2829.89" width="6.2" height="6.2"/><rect x="1043.93" y="2812.5" width="6.2" height="6.2"/><rect x="1043.93" y="2795.12" width="6.2" height="6.2"/><rect x="1043.93" y="2777.73" width="6.2" height="6.2"/><rect x="1043.93" y="2760.34" width="6.2" height="6.2"/><rect x="1043.93" y="2742.95" width="6.2" height="6.2"/><rect x="1043.93" y="2725.56" width="6.2" height="6.2"/><rect x="1043.93" y="2708.18" width="6.2" height="6.2"/><rect x="1043.93" y="2690.79" width="6.2" height="6.2"/><rect x="1043.93" y="2673.4" width="6.2" height="6.2"/><rect x="1043.93" y="2656.01" width="6.2" height="6.2"/><rect x="1043.93" y="2638.62" width="6.2" height="6.2"/><rect x="1043.93" y="2621.24" width="6.2" height="6.2"/><rect x="1043.93" y="2603.85" width="6.2" height="6.2"/><rect x="1043.93" y="2586.46" width="6.2" height="6.2"/><rect x="1043.93" y="2569.07" width="6.2" height="6.2"/><rect x="1043.93" y="2551.68" width="6.2" height="6.2"/><rect x="1043.93" y="2534.3" width="6.2" height="6.2"/><rect x="1043.93" y="2516.91" width="6.2" height="6.2"/><rect x="1043.93" y="2499.52" width="6.2" height="6.2"/><rect x="1043.93" y="2482.13" width="6.2" height="6.2"/><rect x="1043.93" y="2464.74" width="6.2" height="6.2"/><rect x="1043.93" y="2447.36" width="6.2" height="6.2"/><rect x="1043.93" y="2429.97" width="6.2" height="6.2"/><rect x="1043.93" y="2412.58" width="6.2" height="6.2"/><rect x="1043.93" y="2395.19" width="6.2" height="6.2"/><rect x="1043.93" y="2377.8" width="6.2" height="6.2"/><rect x="1043.93" y="2360.42" width="6.2" height="6.2"/><rect x="1043.93" y="2343.03" width="6.2" height="6.2"/><rect x="1043.93" y="2325.64" width="6.2" height="6.2"/><rect x="1043.93" y="2308.25" width="6.2" height="6.2"/><rect x="1043.93" y="2290.86" width="6.2" height="6.2"/><rect x="1043.93" y="2273.48" width="6.2" height="6.2"/><rect x="1043.93" y="2256.09" width="6.2" height="6.2"/><rect x="1043.93" y="2238.7" width="6.2" height="6.2"/><rect x="1043.93" y="2221.31" width="6.2" height="6.2"/><rect x="1043.93" y="2203.92" width="6.2" height="6.2"/><rect x="1043.93" y="2186.54" width="6.2" height="6.2"/><rect x="1043.93" y="2169.15" width="6.2" height="6.2"/><rect x="1043.93" y="2151.76" width="6.2" height="6.2"/><rect x="1043.93" y="2134.37" width="6.2" height="6.2"/><rect x="1043.93" y="2116.98" width="6.2" height="6.2"/><rect x="1043.93" y="2099.6" width="6.2" height="6.2"/><rect x="1043.93" y="2082.21" width="6.2" height="6.2"/><rect x="1043.93" y="2064.82" width="6.2" height="6.2"/><rect x="1043.93" y="2047.43" width="6.2" height="6.2"/></g>
<g fill="#000" clip-path="url(#clipb)"><circle cx="586.32" cy="3548.28" r="9.7"/><circle cx="615.13" cy="3547.58" r="9.7"/><circle cx="643.95" cy="3546.99" r="9.7"/><circle cx="672.77" cy="3545.12" r="9.7"/><circle cx="701.58" cy="3543.33" r="9.7"/><circle cx="730.4" cy="3541.53" r="9.7"/><circle cx="759.22" cy="3537.27" r="9.7"/><circle cx="788.03" cy="3534.7" r="9.7"/><circle cx="816.85" cy="3531.2" r="9.7"/><circle cx="845.67" cy="3526.79" r="9.7"/><circle cx="874.48" cy="3521.01" r="9.7"/><circle cx="903.3" cy="3515.17" r="9.7"/><circle cx="932.12" cy="3505.8" r="9.7"/><circle cx="960.93" cy="3494.59" r="9.7"/><circle cx="989.75" cy="3481.09" r="9.7"/><circle cx="1018.57" cy="3473.75" r="9.7"/><circle cx="1047.38" cy="3456.37" r="9.7"/><circle cx="1076.2" cy="3436.46" r="9.7"/><circle cx="1105.02" cy="3417.32" r="9.7"/><circle cx="1133.83" cy="3391.05" r="9.7"/><circle cx="1162.65" cy="3364.08" r="9.7"/><circle cx="1191.47" cy="3339.79" r="9.7"/><circle cx="1220.28" cy="3313.3" r="9.7"/><circle cx="1249.1" cy="3281.69" r="9.7"/><circle cx="1277.92" cy="3241.7" r="9.7"/><circle cx="1306.73" cy="3196.73" r="9.7"/><circle cx="1335.55" cy="3147.47" r="9.7"/><circle cx="1364.37" cy="3105.7" r="9.7"/><circle cx="1393.18" cy="3069.72" r="9.7"/><circle cx="1422" cy="3030.28" r="9.7"/><circle cx="1450.82" cy="2991.14" r="9.7"/><circle cx="1479.63" cy="2944.91" r="9.7"/><circle cx="1508.45" cy="2900.14" r="9.7"/><circle cx="1537.27" cy="2855.26" r="9.7"/><circle cx="1566.08" cy="2816.06" r="9.7"/><circle cx="1594.9" cy="2785.63" r="9.7"/></g>
<text x="533.8" y="3579.4" font-size="79.0" text-anchor="end" class="dv">0</text>
<text x="533.8" y="3390.38" font-size="79.0" text-anchor="end" class="dv">25000</text>
<text x="533.8" y="3202.75" font-size="79.0" text-anchor="end" class="dv">50000</text>
<text x="533.8" y="3015.53" font-size="79.0" text-anchor="end" class="dv">75000</text>
<text x="533.8" y="2827.1" font-size="79.0" text-anchor="end" class="dv">100000</text>
<text x="533.8" y="2640.78" font-size="79.0" text-anchor="end" class="dv">125000</text>
<text x="533.8" y="2451.45" font-size="79.0" text-anchor="end" class="dv">150000</text>
<text x="533.8" y="2264.63" font-size="79.0" text-anchor="end" class="dv">175000</text>
<text x="533.8" y="2076.8" font-size="79.0" text-anchor="end" class="dv">200000</text>
<text transform="translate(583,3566.4) rotate(-90) scale(0.972,1)" font-size="74.5" text-anchor="end" class="ls">2020/02/23</text>
<text transform="translate(898.37,3566.4) rotate(-90) scale(0.972,1)" font-size="74.5" text-anchor="end" class="ls">2020/03/04</text>
<text transform="translate(1160.03,3566.4) rotate(-90) scale(0.972,1)" font-size="74.5" text-anchor="end" class="ls">2020/03/14</text>
<text transform="translate(1446.1,3566.4) rotate(-90) scale(0.972,1)" font-size="74.5" text-anchor="end" class="ls">2020/03/24</text>
<text transform="translate(1737.17,3566.4) rotate(-90) scale(0.972,1)" font-size="74.5" text-anchor="end" class="ls">2020/04/03</text>
<text transform="translate(2026.03,3566.4) rotate(-90) scale(0.972,1)" font-size="74.5" text-anchor="end" class="ls">2020/04/13</text>
<text transform="translate(2311,3566.4) rotate(-90) scale(0.972,1)" font-size="74.5" text-anchor="end" class="ls">2020/04/23</text>
<text transform="translate(180.1,3408.6) rotate(-90) scale(1,1.035)" font-size="75.47" class="dv k">Total reported cases of infection</text>
<text transform="translate(929.6,2827.9) rotate(-90)" font-size="46.0" font-weight="bold" class="dv">SCHOOL CLOSED</text>
<text transform="translate(1102.6,2843.2) rotate(-90)" font-size="46.0" font-weight="bold" class="dv">ITALY LOCKDOWN</text>
<text x="2068" y="3311.2" font-size="59.2" text-anchor="end" class="dv">Logistic</text>
<line x1="2111.3" x2="2237.6" y1="3289" y2="3289" stroke="#0000ff" stroke-width="6.5"/>
<text x="2068" y="3398" font-size="59.2" text-anchor="end" class="dv">Exponential*</text>
<line x1="2111.3" x2="2237.6" y1="3375.8" y2="3375.8" stroke="#ff0000" stroke-width="6.5"/>
<text x="2068" y="3484.8" font-size="59.2" text-anchor="end" class="dv">Cubic*</text>
<line x1="2111.3" x2="2237.6" y1="3462.6" y2="3462.6" stroke="#008000" stroke-width="6.5"/>
<text font-size="158.0" class="ls"><tspan x="22.1" y="2073.6" textLength="42.93" lengthAdjust="spacingAndGlyphs">(</tspan><tspan x="69.1" y="2074.6" textLength="86.39" lengthAdjust="spacingAndGlyphs">b</tspan><tspan x="165.2" y="2073.6" textLength="46.83" lengthAdjust="spacingAndGlyphs">)</tspan></text>
</g>
</svg>
</body></html>
